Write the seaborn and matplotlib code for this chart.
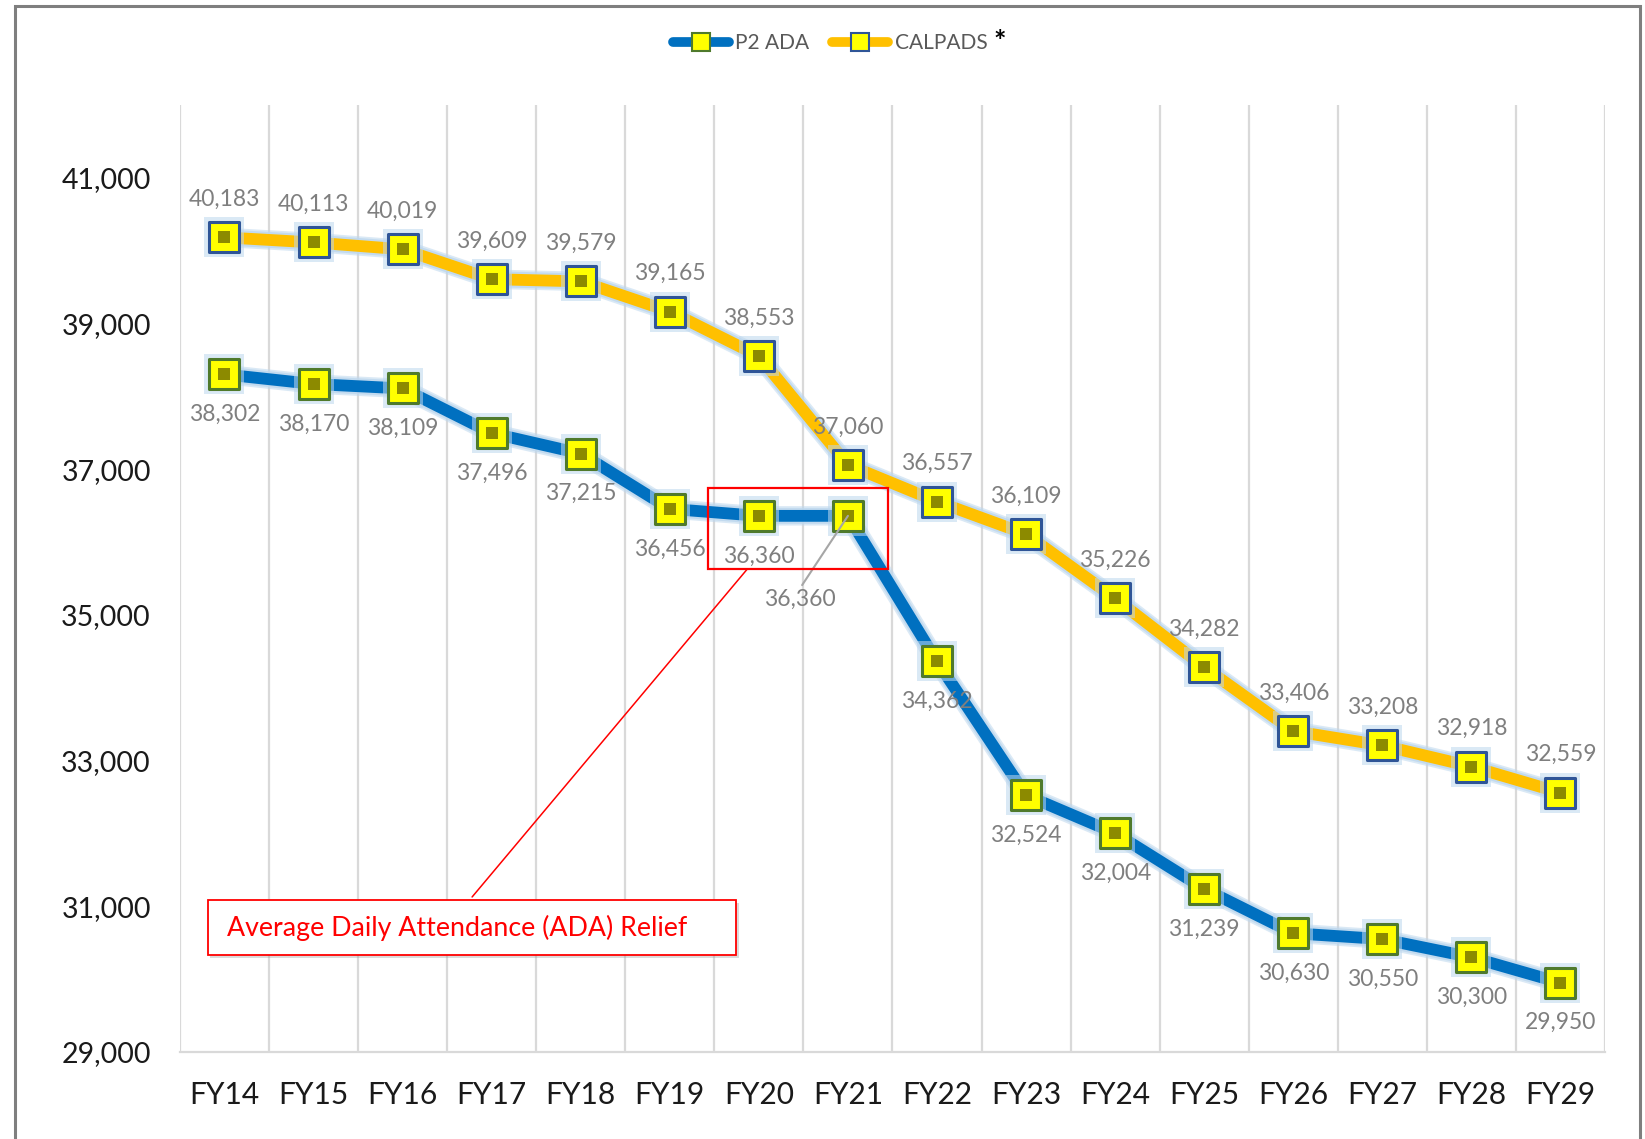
import numpy as np
import pandas as pd
import seaborn as sns
import matplotlib
matplotlib.use("Agg")
import matplotlib.pyplot as plt
import matplotlib.patheffects as pe
from matplotlib.lines import Line2D
from matplotlib.patches import Rectangle

# ---- data -------------------------------------------------------------
years = ["FY14", "FY15", "FY16", "FY17", "FY18", "FY19", "FY20", "FY21",
         "FY22", "FY23", "FY24", "FY25", "FY26", "FY27", "FY28", "FY29"]
p2_ada = [38302, 38170, 38109, 37496, 37215, 36456, 36360, 36360,
          34362, 32524, 32004, 31239, 30630, 30550, 30300, 29950]
calpads = [40183, 40113, 40019, 39609, 39579, 39165, 38553, 37060,
           36557, 36109, 35226, 34282, 33406, 33208, 32918, 32559]
y_ticks = [29000, 31000, 33000, 35000, 37000, 39000, 41000]
series_names = ["P2 ADA", "CALPADS"]
note_text = "Average Daily Attendance (ADA) Relief"

# ---- style ------------------------------------------------------------
sns.set_theme(style="white")
plt.rcParams["font.family"] = ["Lato", "DejaVu Sans"]

BLUE = "#0070C0"
ORANGE = "#FFC000"
YELLOW = "#FFFF00"
GREEN_EDGE = "#4F7A2C"
BLUE_EDGE = "#2F5597"
LABEL_GRAY = "#7F7F7F"
GRID = "#D9D9D9"
RED = "#FF0000"
GLOW = "#BDD7EE"

df = pd.DataFrame({
    "pos": list(range(len(years))) * 2,
    "value": p2_ada + calpads,
    "series": [series_names[0]] * len(years) + [series_names[1]] * len(years),
})

fig = plt.figure(figsize=(16.45, 11.39), dpi=100)
ax = fig.add_axes([0.1094, 0.0764, 0.8663, 0.8314])

# thick connecting lines with a soft light-blue halo
sns.lineplot(data=df, x="pos", y="value", hue="series", hue_order=series_names,
             palette={series_names[0]: BLUE, series_names[1]: ORANGE},
             linewidth=8.5, sort=False, legend=False, ax=ax, zorder=3)
for line in ax.lines[:2]:
    line.set_solid_joinstyle("round")
    line.set_solid_capstyle("round")
    line.set_path_effects([pe.Stroke(linewidth=14, foreground=GLOW, alpha=0.55),
                           pe.Stroke(linewidth=11.5, foreground=GLOW, alpha=0.8),
                           pe.Normal()])

# square markers: halo, yellow face with coloured rim, bevelled centre
for name, ec in zip(series_names, [GREEN_EDGE, BLUE_EDGE]):
    sub = df[df["series"] == name]
    sns.scatterplot(data=sub, x="pos", y="value", marker="s", s=28.5 ** 2,
                    color=GLOW, alpha=0.55, linewidth=0, legend=False, ax=ax, zorder=4)
    sns.scatterplot(data=sub, x="pos", y="value", marker="s", s=21.5 ** 2,
                    color=YELLOW, edgecolor=ec, linewidth=2.2, legend=False,
                    ax=ax, zorder=5)
sns.scatterplot(data=df, x="pos", y="value", marker="s", s=8.5 ** 2,
                color="#8C8A00", linewidth=0, legend=False, ax=ax, zorder=6)

# ---- axes -------------------------------------------------------------
ax.set_xlim(-0.5, len(years) - 0.5)
ax.set_ylim(29000, 42000)
ax.set_xticks(range(len(years)))
ax.set_xticklabels(years, fontsize=21.5, color="#1a1a1a")
ax.set_yticks(y_ticks)
ax.set_yticklabels([f"{v:,}" for v in y_ticks], fontsize=20.5, color="#1a1a1a")
ax.set_xticks(np.arange(-0.5, len(years), 1), minor=True)
ax.tick_params(axis="both", which="both", length=0)
ax.tick_params(axis="x", pad=21)
ax.tick_params(axis="y", pad=21)
ax.grid(False)
ax.grid(which="minor", axis="x", color=GRID, linewidth=1.6, zorder=0)
ax.set_xlabel("")
ax.set_ylabel("")
for side in ["left", "top", "right"]:
    ax.spines[side].set_visible(False)
ax.spines["bottom"].set_color(GRID)
ax.spines["bottom"].set_linewidth(1.6)

# ---- data labels --------------------------------------------------------
LABEL_SIZE = 16.5
for i, v in enumerate(calpads):
    ax.annotate(f"{v:,}", xy=(i, v), xytext=(0, 38), textcoords="offset pixels",
                ha="center", va="center", fontsize=LABEL_SIZE, color=LABEL_GRAY, zorder=7)
for i, v in enumerate(p2_ada):
    if years[i] == "FY21":
        ax.annotate(f"{v:,}", xy=(i, v), xytext=(-48, -83), textcoords="offset pixels",
                    ha="center", va="center", fontsize=LABEL_SIZE, color=LABEL_GRAY,
                    zorder=7,
                    arrowprops=dict(arrowstyle="-", color="#A6A6A6", lw=1.5,
                                    shrinkA=0, shrinkB=0, relpos=(0.5, 1.0)))
    else:
        ax.annotate(f"{v:,}", xy=(i, v), xytext=(0, -40), textcoords="offset pixels",
                    ha="center", va="center", fontsize=LABEL_SIZE, color=LABEL_GRAY,
                    zorder=7)

# ---- ADA relief callout -------------------------------------------------
ax.add_patch(Rectangle((5.43, 35630), 2.02, 1112, fill=False, edgecolor=RED,
                       linewidth=1.6, zorder=8))
shadow = [pe.withSimplePatchShadow(offset=(2, -2), shadow_rgbFace="#999999", alpha=0.35)]
ax.add_patch(Rectangle((-0.19, 30331), 5.93, 755, facecolor="white", edgecolor=RED,
                       linewidth=1.3, zorder=8, path_effects=shadow))
ax.plot([2.78, 5.87], [31128, 35630], color=RED, linewidth=1.1, zorder=8)
ax.text(0.03, 30709, note_text, ha="left", va="center", fontsize=19.3,
        color=RED, zorder=9)

# ---- legend ---------------------------------------------------------------
handles = [
    Line2D([], [], color=BLUE, linewidth=7, solid_capstyle="round", marker="s",
           markersize=13, markerfacecolor=YELLOW, markeredgecolor=GREEN_EDGE,
           markeredgewidth=1.5),
    Line2D([], [], color=ORANGE, linewidth=7, solid_capstyle="round", marker="s",
           markersize=13, markerfacecolor=YELLOW, markeredgecolor=BLUE_EDGE,
           markeredgewidth=1.5),
]
leg = fig.legend(handles, series_names, loc="center", bbox_to_anchor=(0.5046, 0.962),
                 ncol=2, frameon=False, fontsize=15, handlelength=2.7,
                 handletextpad=0.3, columnspacing=1.1)
for t in leg.get_texts():
    t.set_color("#595959")
fig.text(1000 / 1645, 0.963, "*", ha="center", va="center", fontsize=21,
         fontweight="bold", color="black")

# ---- outer frame ----------------------------------------------------------
fig.patches.append(Rectangle((15 / 1645, -0.02), (1640 - 15) / 1645, 1.02 - 6 / 1139,
                             transform=fig.transFigure, fill=False,
                             edgecolor="#7F7F7F", linewidth=2.2, zorder=10))

fig.savefig("out.png", dpi=100)
